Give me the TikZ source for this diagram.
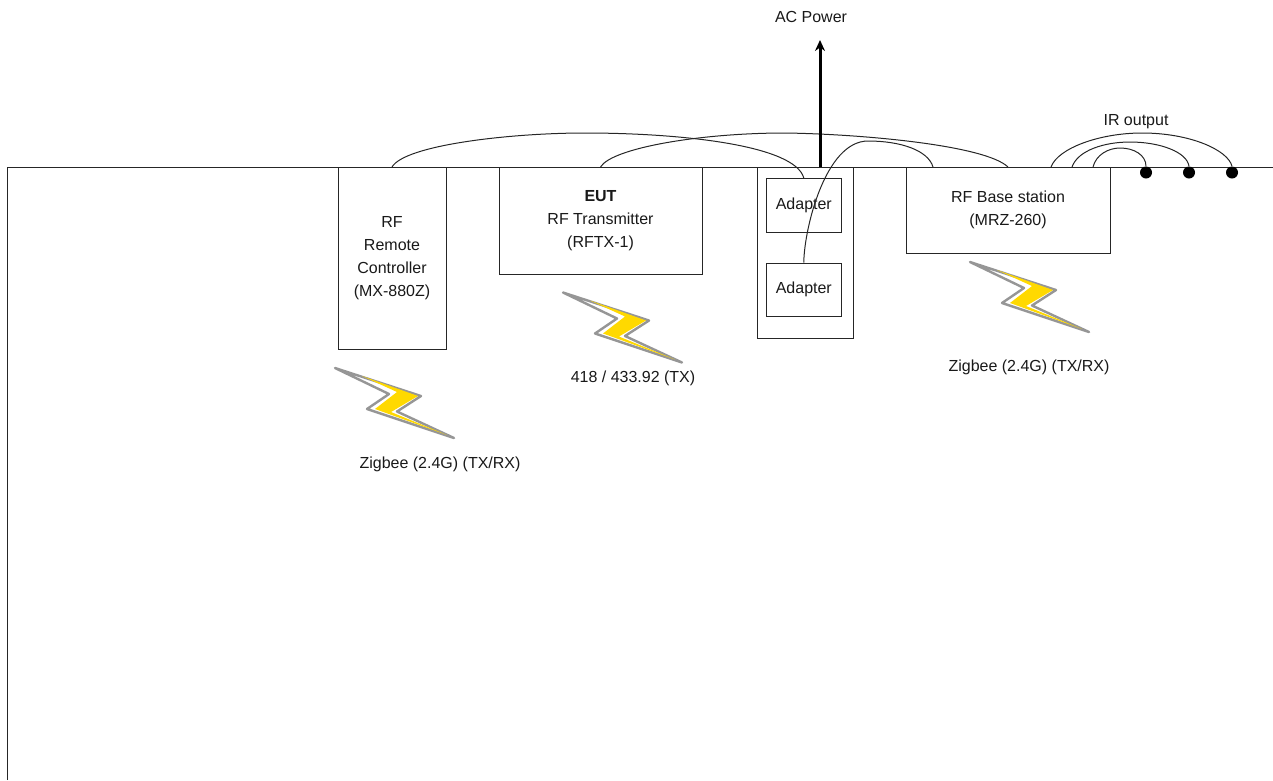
\documentclass[tikz,border=0pt]{standalone}
\usepackage{fontspec}
\setmainfont{Liberation Sans}
\definecolor{bolty}{RGB}{255,217,0}
\definecolor{boltg}{RGB}{150,150,150}
\definecolor{inkc}{RGB}{25,25,25}
\tikzset{
  x=1pt,y=-1pt,
  box/.style={draw=black!85,line width=1pt,fill=none},
  lbl/.style={font=\fontsize{16}{23}\selectfont,text=inkc,align=center,inner sep=0pt},
  wire/.style={draw=black!85,line width=1pt},
  pwr/.style={draw=black,line width=3pt,-{Stealth[length=11pt,width=10pt]}},
  irdot/.style={circle,fill=black,inner sep=0pt,minimum size=12pt},
  bolt/.pic={
    \fill[white,draw=boltg,line width=2.4pt,line join=round]
      (0,0) -- (86,28) -- (62,43.5) -- (119,70) -- (32,41) -- (54,26) -- cycle;
    \fill[bolty]
      (27,8) -- (83,28) -- (56,44) -- (112,67) -- (40,41) -- (62,24) -- cycle;
  }
}
\usetikzlibrary{arrows.meta}
\begin{document}
\begin{tikzpicture}
\useasboundingbox (0,0) rectangle (1273,780);
\draw[box] (7,780) -- (7,167) -- (1273,167);
\path[box] (338,167) rectangle (446,349);
\node[lbl] (remote) at (392,258) {RF\\Remote\\Controller\\(MX-880Z)};
\path[box] (499,167) rectangle (702,274);
\node[lbl] (eut) at (600.5,221) {\textbf{EUT}\\RF Transmitter\\(RFTX-1)};
\path[box] (757,167) rectangle (853,338);
\node[box,lbl,minimum width=74.5pt,minimum height=53.5pt] (ad1) at (803.8,205.3) {Adapter};
\node[box,lbl,minimum width=74.5pt,minimum height=53.5pt] (ad2) at (803.8,289.8) {Adapter};
\path[box] (906,167) rectangle (1110,253);
\node[lbl] (base) at (1008,210) {RF Base station\\(MRZ-260)};
\coordinate (rtop) at (392,167);
\coordinate (etop) at (600.5,167);
\coordinate (b1) at (933,167);
\coordinate (b2) at (1008,167);
\coordinate (b3) at (1051,167);
\coordinate (b4) at (1072,167);
\coordinate (b5) at (1093,167);
\coordinate (acbase) at (820,167);
\node[lbl] (ac) at (811,17) {AC Power};
\coordinate (actip) at (820,40);
\node[lbl] (ir) at (1136,122) {IR output};
\node[irdot] (d1) at (1146,172.5) {};
\node[irdot] (d2) at (1189,172.5) {};
\node[irdot] (d3) at (1232,172.5) {};
\draw[wire] (rtop) .. controls (405,145) and (510,133) .. (585,133) .. controls (680,133) and (795,145) .. (ad1.north);
\draw[wire] (etop) .. controls (612,148) and (700,133) .. (785,133) .. controls (860,134) and (985,145) .. (b2);
\draw[wire] (ad2.north) .. controls (804,230) and (825,141) .. (868,141) .. controls (900,141) and (928,150) .. (b1);
\draw[wire] (b3) .. controls (1058,148) and (1100,133) .. (1142,133) .. controls (1190,133) and (1228,150) .. (d3.north);
\draw[wire] (b4) .. controls (1078,150) and (1105,142) .. (1130,142) .. controls (1160,142) and (1187,152) .. (d2.north);
\draw[wire] (b5) .. controls (1096,155) and (1108,148) .. (1120,148) .. controls (1134,148) and (1146,155) .. (d1.north);
\draw[pwr] (acbase) -- (actip);
\pic at (335,368) {bolt};
\pic at (563,292.5) {bolt};
\pic at (970,262) {bolt};
\node[lbl] (z1) at (440,464) {Zigbee (2.4G) (TX/RX)};
\node[lbl] (z2) at (633,378) {418 / 433.92 (TX)};
\node[lbl] (z3) at (1029,367) {Zigbee (2.4G) (TX/RX)};
\end{tikzpicture}
\end{document}
